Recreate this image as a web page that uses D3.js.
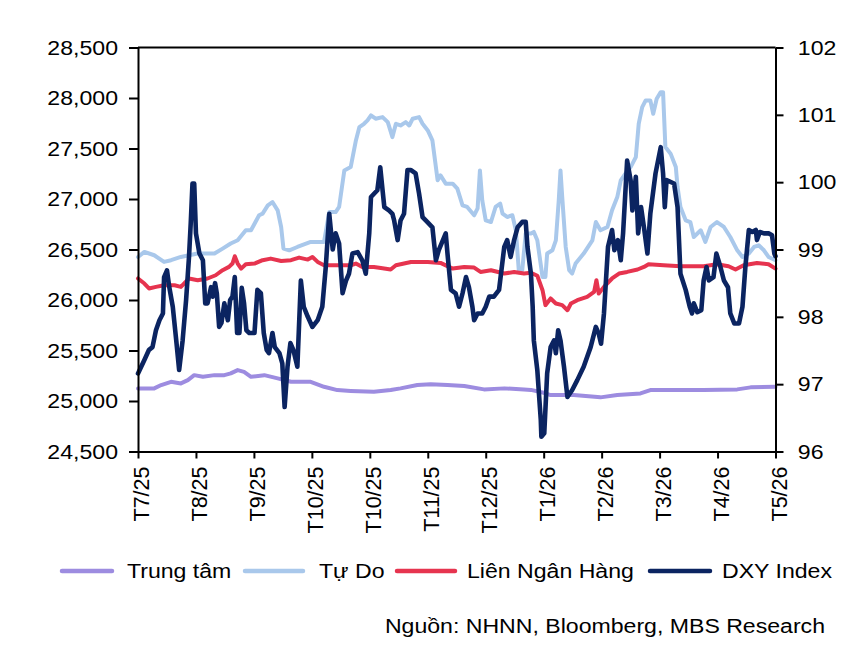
<!DOCTYPE html>
<html><head><meta charset="utf-8">
<script src="https://cdn.jsdelivr.net/npm/d3@7"></script>
<style>
html,body{margin:0;padding:0;background:#fff;}
text{font-family:"Liberation Sans",Arial,sans-serif;fill:#000;}
</style></head>
<body><svg id="chart" width="860" height="665"></svg>
<script>
// ---------- DATA ----------
const monthLabels = ["T7/25","T8/25","T9/25","T10/25","T10/25","T11/25","T12/25","T1/26","T2/26","T3/26","T4/26","T5/26"];
const leftTicks = [24500,25000,25500,26000,26500,27000,27500,28000,28500];
const rightTicks = [96,97,98,99,100,101,102];
const seriesNames = ["Trung tâm","Tự Do","Liên Ngân Hàng","DXY Index"];
const seriesColors = ["#9d8ce0","#a9c8eb","#e6344f","#0b2461"];

// [month position, value]
const trungTam = [[0,25125],[0.28,25125],[0.40,25158],[0.57,25190],[0.74,25174],[0.86,25207],[0.97,25256],[1.12,25240],[1.32,25256],[1.49,25256],[1.60,25273],[1.72,25306],[1.83,25289],[1.95,25240],[2.18,25256],[2.41,25224],[2.64,25190],[2.98,25190],[3.21,25141],[3.44,25108],[3.67,25100],[4.07,25091],[4.36,25108],[4.53,25125],[4.82,25158],[5.05,25167],[5.34,25158],[5.63,25148],[5.97,25115],[6.32,25125],[6.66,25115],[6.78,25110],[7.00,25081],[7.12,25059],[7.52,25059],[7.98,25036],[8.27,25059],[8.67,25075],[8.84,25108],[9.36,25108],[9.76,25108],[10.34,25115],[10.57,25135],[11.0,25141]];

const tuDo = [[0,26426],[0.11,26476],[0.28,26443],[0.45,26377],[0.57,26394],[0.74,26426],[0.88,26443],[1.03,26460],[1.32,26460],[1.46,26509],[1.60,26559],[1.72,26591],[1.86,26690],[1.95,26690],[2.09,26839],[2.15,26855],[2.24,26937],[2.32,26970],[2.41,26888],[2.47,26723],[2.51,26509],[2.61,26492],[2.75,26525],[2.98,26575],[3.21,26575],[3.30,26871],[3.41,26871],[3.47,26921],[3.56,27283],[3.67,27316],[3.76,27580],[3.82,27712],[3.90,27745],[3.96,27778],[4.02,27827],[4.10,27795],[4.22,27811],[4.31,27761],[4.39,27613],[4.45,27745],[4.53,27728],[4.62,27761],[4.68,27728],[4.74,27795],[4.85,27811],[4.91,27745],[5.00,27679],[5.08,27580],[5.17,27185],[5.22,27234],[5.31,27152],[5.43,27152],[5.51,27103],[5.60,26937],[5.68,26921],[5.80,26839],[5.86,26908],[5.90,27283],[5.94,26987],[6.00,26789],[6.09,26772],[6.17,26921],[6.25,26954],[6.29,26855],[6.37,26822],[6.46,26839],[6.52,26690],[6.57,26295],[6.63,26295],[6.69,26658],[6.78,26658],[6.83,26674],[6.89,26591],[6.98,26228],[7.03,26228],[7.06,26460],[7.15,26492],[7.21,26591],[7.26,26987],[7.29,27283],[7.32,27019],[7.38,26525],[7.44,26295],[7.49,26262],[7.55,26361],[7.69,26460],[7.84,26591],[7.90,26772],[7.98,26690],[8.10,26723],[8.18,26888],[8.27,27019],[8.33,27185],[8.41,27251],[8.50,27316],[8.59,27415],[8.64,27745],[8.70,27909],[8.76,27976],[8.84,27976],[8.89,27844],[8.95,27992],[9.02,28058],[9.06,28058],[9.10,27514],[9.19,27449],[9.28,27316],[9.31,27118],[9.36,26921],[9.45,26789],[9.53,26772],[9.59,26624],[9.71,26690],[9.79,26575],[9.88,26723],[9.99,26772],[10.11,26723],[10.22,26624],[10.34,26492],[10.43,26426],[10.54,26460],[10.63,26525],[10.71,26542],[10.80,26492],[10.88,26426],[11.0,26394]];

const lienNganHang = [[0,26213],[0.11,26163],[0.19,26114],[0.31,26130],[0.45,26146],[0.63,26146],[0.74,26130],[0.88,26213],[1.03,26196],[1.20,26213],[1.34,26245],[1.46,26295],[1.57,26328],[1.63,26361],[1.67,26433],[1.72,26361],[1.78,26311],[1.86,26354],[2.01,26361],[2.15,26394],[2.29,26410],[2.47,26386],[2.64,26394],[2.78,26420],[2.93,26400],[3.01,26426],[3.10,26377],[3.21,26344],[3.44,26344],[3.67,26344],[3.76,26361],[3.87,26327],[4.07,26327],[4.19,26317],[4.36,26302],[4.45,26344],[4.71,26377],[5.00,26377],[5.22,26367],[5.43,26311],[5.63,26327],[5.80,26321],[5.91,26278],[6.09,26295],[6.32,26262],[6.49,26278],[6.66,26262],[6.78,26270],[6.89,26240],[6.98,26097],[7.03,25949],[7.12,26015],[7.21,25965],[7.32,25949],[7.41,25899],[7.47,25965],[7.58,25998],[7.75,26031],[7.87,26080],[7.91,26196],[7.95,26064],[8.04,26130],[8.18,26213],[8.30,26262],[8.44,26278],[8.62,26302],[8.73,26327],[8.81,26354],[9.07,26344],[9.36,26334],[9.76,26334],[9.99,26354],[10.19,26334],[10.31,26302],[10.45,26344],[10.68,26367],[10.88,26354],[11.0,26311]];

const dxyIndex = [[0,97.16],[0.11,97.36],[0.19,97.51],[0.25,97.55],[0.31,97.80],[0.37,97.95],[0.43,98.05],[0.45,98.59],[0.50,98.69],[0.54,98.44],[0.60,98.15],[0.66,97.65],[0.71,97.21],[0.77,97.65],[0.83,98.25],[0.88,98.89],[0.91,99.39],[0.94,99.98],[0.97,99.98],[1.00,99.24],[1.06,98.94],[1.12,98.84],[1.16,98.20],[1.20,98.20],[1.26,98.44],[1.29,98.30],[1.33,98.50],[1.36,98.35],[1.40,97.85],[1.44,97.91],[1.49,98.20],[1.55,97.95],[1.59,98.25],[1.63,98.30],[1.67,98.59],[1.71,97.76],[1.75,97.76],[1.79,98.43],[1.83,98.20],[1.87,97.80],[1.92,97.76],[2.01,97.76],[2.06,98.40],[2.12,98.35],[2.17,97.76],[2.22,97.51],[2.26,97.46],[2.32,97.76],[2.36,97.55],[2.44,97.46],[2.49,97.31],[2.53,96.66],[2.58,97.26],[2.63,97.61],[2.68,97.51],[2.75,97.26],[2.81,98.54],[2.86,98.15],[2.93,98.00],[3.01,97.85],[3.10,97.95],[3.18,98.15],[3.24,98.74],[3.30,99.53],[3.36,99.00],[3.41,99.24],[3.47,99.09],[3.53,98.35],[3.59,98.54],[3.64,98.64],[3.70,98.94],[3.79,98.96],[3.87,98.84],[3.93,98.64],[3.99,99.24],[4.02,99.78],[4.13,99.88],[4.18,100.22],[4.22,99.88],[4.25,99.63],[4.33,99.58],[4.39,99.53],[4.42,99.43],[4.48,99.14],[4.53,99.43],[4.59,99.53],[4.65,100.18],[4.71,100.18],[4.79,100.13],[4.85,99.83],[4.91,99.48],[4.99,99.41],[5.08,99.33],[5.14,98.84],[5.19,98.99],[5.31,99.24],[5.34,98.94],[5.40,98.40],[5.48,98.35],[5.54,98.15],[5.60,98.35],[5.66,98.59],[5.71,98.44],[5.77,98.15],[5.80,97.95],[5.86,98.05],[5.94,98.05],[6.00,98.15],[6.06,98.30],[6.14,98.30],[6.23,98.40],[6.32,99.04],[6.37,99.14],[6.43,98.89],[6.49,99.14],[6.55,99.33],[6.63,99.41],[6.69,99.41],[6.72,99.04],[6.78,98.64],[6.81,98.15],[6.83,97.65],[6.89,97.21],[6.95,96.47],[6.96,96.22],[7.01,96.27],[7.06,97.16],[7.12,97.55],[7.18,97.65],[7.21,97.46],[7.25,97.80],[7.29,97.65],[7.35,97.26],[7.41,96.81],[7.49,96.91],[7.58,97.06],[7.69,97.26],[7.81,97.55],[7.90,97.85],[7.95,97.75],[7.99,97.60],[8.04,98.05],[8.11,99.04],[8.18,99.29],[8.22,98.99],[8.28,99.14],[8.33,98.84],[8.37,99.24],[8.44,100.32],[8.50,100.03],[8.53,99.58],[8.59,100.08],[8.63,99.24],[8.68,99.63],[8.73,99.33],[8.79,98.94],[8.84,99.53],[8.93,100.13],[9.02,100.52],[9.06,100.13],[9.09,99.63],[9.12,100.03],[9.25,99.98],[9.31,99.63],[9.36,98.64],[9.45,98.40],[9.52,98.15],[9.56,98.05],[9.59,98.20],[9.65,98.07],[9.72,98.10],[9.76,98.54],[9.81,98.74],[9.85,98.54],[9.93,98.59],[9.98,98.94],[10.05,98.74],[10.11,98.54],[10.18,98.44],[10.22,98.05],[10.29,97.90],[10.37,97.90],[10.43,98.15],[10.48,98.74],[10.54,99.29],[10.60,99.26],[10.66,99.29],[10.68,99.14],[10.73,99.26],[10.80,99.24],[10.88,99.24],[10.94,99.21],[10.98,98.94],[11.0,98.90]];

const sourceText = "Nguồn: NHNN, Bloomberg, MBS Research";

// ---------- LAYOUT ----------
const L = 138, R = 775.5, T = 47.5, B = 451.5;
const FS = 21;        // font size
const SX = 1.1;       // horizontal stretch of horizontal text (as in reference)
const svg = d3.select("#chart");

const x = d3.scaleLinear().domain([0, 11]).range([L, R]);
const yL = d3.scaleLinear().domain([24500, 28500]).range([B, T]);
const yR = d3.scaleLinear().domain([96, 102]).range([B, T]);

// frame top line
svg.append("line").attr("x1", L).attr("x2", R).attr("y1", T).attr("y2", T)
  .attr("stroke", "#000").attr("stroke-width", 2);

// series lines
const lineL = d3.line().x(d => x(d[0])).y(d => yL(d[1]));
const lineR = d3.line().x(d => x(d[0])).y(d => yR(d[1]));
const seriesData = [trungTam, tuDo, lienNganHang, dxyIndex];
const widths = [4, 4, 4, 4.6];
seriesData.forEach((s, i) => {
  svg.append("path").datum(s)
    .attr("d", i === 3 ? lineR : lineL)
    .attr("fill", "none")
    .attr("stroke", seriesColors[i])
    .attr("stroke-width", widths[i])
    .attr("stroke-linejoin", "round")
    .attr("stroke-linecap", "round");
});

// axes
function styleAxis(g) {
  g.selectAll(".domain").attr("stroke", "#000").attr("stroke-width", 2);
  g.selectAll(".tick line").attr("stroke", "#000").attr("stroke-width", 2);
  g.selectAll(".tick text").style("font-size", FS + "px").attr("fill", "#000")
    .style("font-family", "'Liberation Sans', Arial, sans-serif");
}
const gL = svg.append("g").attr("transform", `translate(${L},0)`)
  .call(d3.axisLeft(yL).tickValues(leftTicks).tickSize(9).tickSizeOuter(0).tickPadding(9.2)
    .tickFormat(d3.format(",")));
styleAxis(gL);
gL.selectAll(".tick text").attr("transform", `scale(${SX},1)`);

const gR = svg.append("g").attr("transform", `translate(${R},0)`)
  .call(d3.axisRight(yR).tickValues(rightTicks).tickSize(8).tickSizeOuter(0).tickPadding(12.3)
    .tickFormat(d3.format("d")));
styleAxis(gR);
gR.selectAll(".tick text").attr("transform", `scale(${SX},1)`);

const gB = svg.append("g").attr("transform", `translate(0,${B})`)
  .call(d3.axisBottom(x).tickValues(d3.range(monthLabels.length)).tickSize(7).tickSizeOuter(0)
    .tickFormat(i => monthLabels[i]));
styleAxis(gB);
gB.selectAll(".tick text")
  .style("font-size", "21.5px")
  .attr("text-anchor", "end")
  .attr("transform", "translate(3,15) rotate(-90)")
  .attr("x", 0).attr("y", 0).attr("dy", "0.35em");

// legend
const legendPos = [[62, 112, 127], [245, 303, 319], [397, 455, 467], [650, 710, 722]];
const legY = 571;
seriesNames.forEach((n, i) => {
  const p = legendPos[i];
  svg.append("line").attr("x1", p[0]).attr("x2", p[1]).attr("y1", legY).attr("y2", legY)
    .attr("stroke", seriesColors[i]).attr("stroke-width", 4.5).attr("stroke-linecap", "round");
  svg.append("text").attr("transform", `translate(${p[2]},${legY}) scale(${SX},1)`)
    .attr("dy", "0.35em")
    .style("font-size", FS + "px").text(n);
});

// source
svg.append("text").attr("transform", `translate(825,633) scale(${SX},1)`)
  .attr("text-anchor", "end")
  .style("font-size", FS + "px").text(sourceText);
</script></body></html>
